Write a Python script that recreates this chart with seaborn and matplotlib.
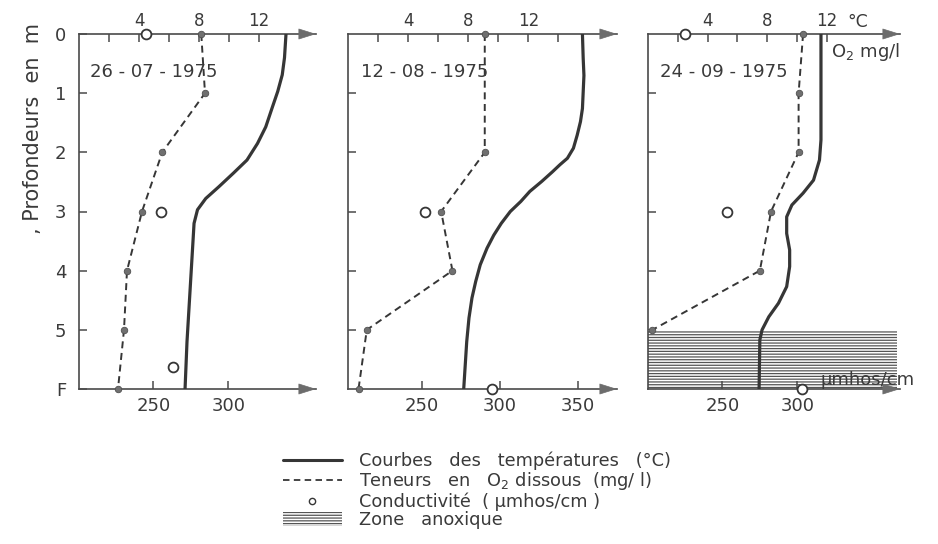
import matplotlib
matplotlib.use("Agg")
import matplotlib.pyplot as plt
import seaborn as sns
from matplotlib.lines import Line2D
from matplotlib.patches import Patch

# ---------------- data ----------------
dates = ["26 - 07 - 1975", "12 - 08 - 1975", "24 - 09 - 1975"]
depth_ticks = [0, 1, 2, 3, 4, 5, 6]
depth_labels = ["0", "1", "2", "3", "4", "5", "F"]

# temperature profiles (°C)
temp1_depth = [0.0, 0.4, 0.69, 0.97, 1.23, 1.57, 1.85, 2.13, 2.35, 2.58, 2.78, 2.97,
               3.2, 3.5, 4.35, 5.2, 6.0]
temp1 = [13.8, 13.7, 13.55, 13.25, 12.9, 12.45, 11.9, 11.2, 10.3, 9.33, 8.45, 7.9,
         7.67, 7.6, 7.4, 7.2, 7.07]
temp2_depth = [0.0, 0.41, 0.7, 1.26, 1.48, 1.71, 1.93, 2.1, 2.21, 2.33, 2.49, 2.66, 2.83,
               3.0, 3.2, 3.4, 3.62, 3.9, 4.18, 4.46, 4.8, 5.2, 6.0]
temp2 = [15.6, 15.65, 15.7, 15.6, 15.47, 15.25, 15.0, 14.6, 14.1, 13.6, 12.9, 12.1, 11.5,
         10.8, 10.2, 9.7, 9.25, 8.8, 8.5, 8.25, 8.05, 7.9, 7.7]
temp3_depth = [0.0, 1.54, 1.79, 2.13, 2.47, 2.69, 2.89, 3.09, 3.37, 3.65, 3.93, 4.27,
               4.55, 4.78, 5.0, 5.17, 6.0]
temp3 = [11.6, 11.6, 11.6, 11.5, 11.1, 10.4, 9.65, 9.3, 9.3, 9.5, 9.5, 9.3,
         8.75, 8.1, 7.65, 7.5, 7.45]

# dissolved O2 (mg/l)
o2_1_depth = [0, 1, 2, 3, 4, 5, 6]
o2_1 = [8.15, 8.4, 5.55, 4.2, 3.2, 3.0, 2.6]
o2_2_depth = [0, 2, 3, 4, 5, 6]
o2_2 = [9.1, 9.1, 6.2, 6.95, 1.25, 0.7]
o2_3_depth = [0, 1, 2, 3, 4, 5]
o2_3 = [10.4, 10.1, 10.1, 8.25, 7.5, 0.3]

# conductivity (µmhos/cm)
cond1_depth = [0, 3, 5.62]
cond1 = [245, 255, 263]
cond2_depth = [3, 6]
cond2 = [252, 295]
cond3_depth = [0, 3, 6]
cond3 = [225, 253, 303]

# anoxic zone (panel 3)
anoxic_top, anoxic_bottom = 5.0, 6.0

temp_major = [4, 8, 12]
cond_ticks = [[250, 300], [250, 300, 350], [250, 300]]
temp_minor = [[2, 6, 10], [2, 6, 10, 14], [2, 6, 10]]

# ---------------- layout ----------------
W, H = 938, 544
top_px, bot_px = 34, 389
panels_px = [(79, 316), (348, 617), (648, 900)]
temp_lim = [(0, 15.8), (0, 17.9), (0, 16.9)]
cond_lim = [(200.5, 358.5), (202.6, 375.0), (200.5, 368.5)]

DARK = "#363636"
SPINE = "#4a4a4a"
ARROW = "#6c6c6c"
TXT = "#3a3a3a"

sns.set_style("white")
plt.rcParams["font.family"] = ["DejaVu Sans"]
plt.rcParams["hatch.linewidth"] = 0.9

fig = plt.figure(figsize=(W / 100, H / 100), dpi=100)
fig.patch.set_facecolor("white")

temps = [(temp1, temp1_depth), (temp2, temp2_depth), (temp3, temp3_depth)]
o2s = [(o2_1, o2_1_depth), (o2_2, o2_2_depth), (o2_3, o2_3_depth)]
conds = [(cond1, cond1_depth), (cond2, cond2_depth), (cond3, cond3_depth)]


def arrow(ax, y):
    ax.annotate("", xy=(1, y), xycoords="axes fraction",
                xytext=(-11.5, 0), textcoords="offset points",
                arrowprops=dict(arrowstyle="-|>,head_length=1.15,head_width=0.36",
                                mutation_scale=10, lw=0.5, color=ARROW,
                                shrinkA=0, shrinkB=0),
                annotation_clip=False, zorder=6)


for i in range(3):
    x0, x1 = panels_px[i]
    ax = fig.add_axes([x0 / W, 1 - bot_px / H, (x1 - x0) / W, (bot_px - top_px) / H])
    ax.set_facecolor("none")
    ax2 = ax.twiny()

    # temperature
    t, d = temps[i]
    sns.lineplot(x=t, y=d, sort=False, estimator=None, ax=ax, color=DARK,
                 lw=2.3, zorder=4)
    ax.lines[-1].set_solid_joinstyle("round")
    # oxygen
    o, od = o2s[i]
    sns.lineplot(x=o, y=od, sort=False, estimator=None, ax=ax, color=DARK,
                 lw=1.4, dashes=False, zorder=4)
    ax.lines[-1].set_dashes((3.6, 2.4))
    sns.scatterplot(x=o, y=od, ax=ax, s=22, color="#707070", edgecolor="#505050",
                    linewidth=0.6, zorder=5, clip_on=False)
    # conductivity
    c, cd = conds[i]
    sns.scatterplot(x=c, y=cd, ax=ax2, s=50, facecolor="white", edgecolor=DARK,
                    linewidth=1.3, zorder=5, clip_on=False)

    ax.set_xlim(*temp_lim[i])
    ax2.set_xlim(*cond_lim[i])
    ax.set_ylim(6, 0)

    # anoxic zone
    if i == 2:
        ax.axhspan(anoxic_top, anoxic_bottom, xmin=0, xmax=0.988, facecolor="white",
                   edgecolor="#555555", hatch="------", lw=0, zorder=2)

    # axes styling
    ax.xaxis.set_ticks_position("top")
    ax.set_xticks(temp_major)
    ax.set_xticklabels([str(v) for v in temp_major])
    ax.set_xticks(temp_minor[i], minor=True)
    ax2.xaxis.set_ticks_position("bottom")
    ax2.xaxis.set_label_position("bottom")
    ax2.set_xticks(cond_ticks[i])
    ax2.set_xticklabels([str(v) for v in cond_ticks[i]])
    ax.set_yticks(depth_ticks[1:-1] if i else depth_ticks)
    if i == 0:
        ax.set_yticklabels(depth_labels)
    else:
        ax.set_yticklabels([])
    ax.set_xlabel("")
    ax.set_ylabel("")
    ax2.set_xlabel("")
    ax2.set_ylabel("")

    for a in (ax, ax2):
        for s in a.spines.values():
            s.set_visible(False)
    for s in ("left", "top", "bottom"):
        ax.spines[s].set_visible(True)
        ax.spines[s].set_color(SPINE)
        ax.spines[s].set_linewidth(1.2)
        ax.spines[s].set_zorder(3)

    ax.tick_params(axis="x", which="both", direction="in", length=6, width=1.1,
                   color=SPINE, labelsize=12, labelcolor=TXT, pad=3,
                   top=True, bottom=False)
    ax.tick_params(axis="y", which="both", direction="in", length=6, width=1.1,
                   color=SPINE, labelsize=13, labelcolor=TXT, pad=9, left=True, right=False)
    ax2.tick_params(axis="x", direction="in", length=6, width=1.1, color=SPINE,
                    labelsize=13, labelcolor=TXT, pad=6, top=False, bottom=True)
    ax2.tick_params(axis="y", left=False, right=False, labelleft=False, labelright=False)

    arrow(ax, 1.0)
    arrow(ax, 0.0)

    ax.text(0.048, 0.893, dates[i], transform=ax.transAxes, fontsize=13,
            color=TXT, ha="left", va="center", zorder=7)

    if i == 2:
        ax.text(0.79, 1.034, "°C", transform=ax.transAxes, fontsize=12.5,
                color=TXT, ha="left", va="center")
        ax.text(0.725, 0.949, "O$_2$ mg/l", transform=ax.transAxes, fontsize=13,
                color=TXT, ha="left", va="center")
        ax.text(0.683, 0.025, "µmhos/cm", transform=ax.transAxes, fontsize=13,
                color=TXT, ha="left", va="center", zorder=8, clip_on=False)

fig.text(33 / W, 1 - 128 / H, ", Profondeurs  en  m", rotation=90, fontsize=15,
         color=TXT, ha="center", va="center")

handles = [
    Line2D([], [], color=DARK, lw=2.2),
    Line2D([], [], color=DARK, lw=1.3, dashes=(3.6, 2.4)),
    Line2D([], [], color=DARK, marker="o", ls="none", ms=4.5, mfc="white", mew=1.0),
    Patch(facecolor="white", edgecolor="#555555", hatch="------", lw=0),
]
labels = [
    "Courbes   des   températures   (°C)",
    "Teneurs   en   O$_2$ dissous  (mg/ l)",
    "Conductivité  ( µmhos/cm )",
    "Zone   anoxique",
]
leg = fig.legend(handles, labels, loc="upper left",
                 bbox_to_anchor=(283 / W, 1 - 452 / H), frameon=False,
                 fontsize=12.8, handlelength=3.3, handletextpad=1.0,
                 labelspacing=0.0, borderpad=0, borderaxespad=0, handleheight=0.8)
for txt in leg.get_texts():
    txt.set_color(TXT)

fig.savefig("out.png", dpi=100, facecolor="white")
